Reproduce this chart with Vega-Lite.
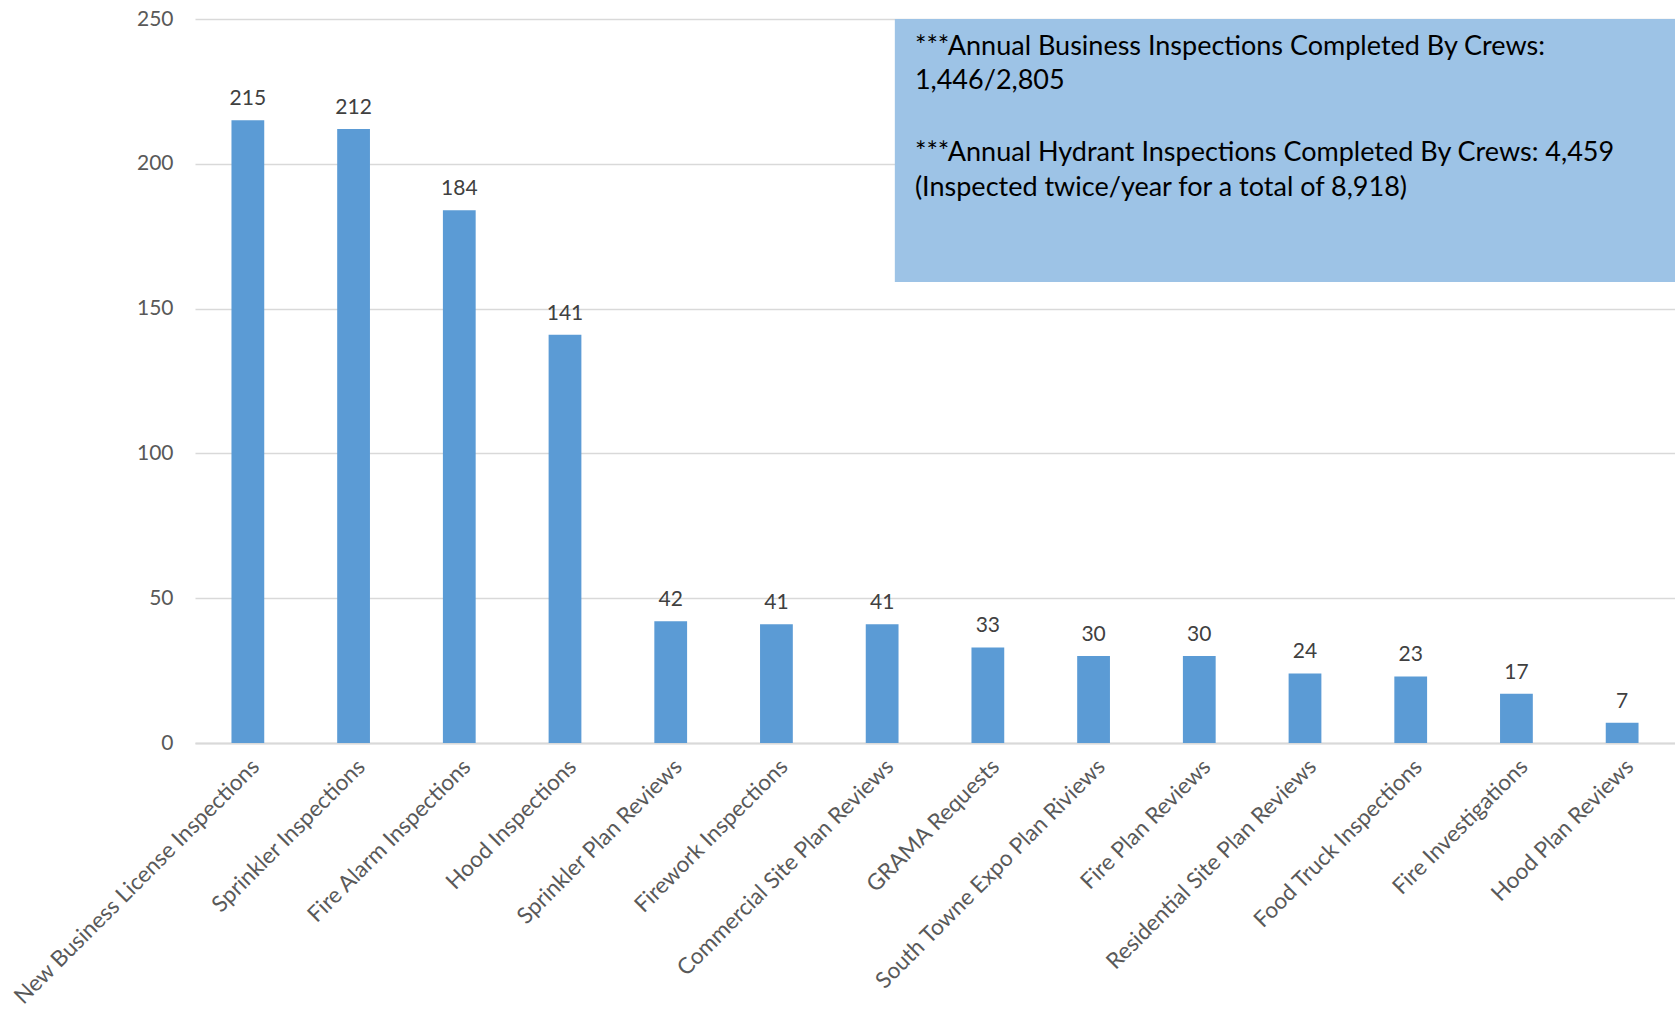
{
  "$schema": "https://vega.github.io/schema/vega-lite/v6.json",
  "width": 1480,
  "height": 724,
  "autosize": "none",
  "padding": {"left": 195, "top": 19, "right": 0, "bottom": 268},
  "background": "white",
  "config": {"view": {"stroke": null}, "font": "Lato"},
  "layer": [
    {
      "data": {
        "values": [
          {"category": "New Business License Inspections", "value": 215},
          {"category": "Sprinkler Inspections", "value": 212},
          {"category": "Fire Alarm Inspections", "value": 184},
          {"category": "Hood Inspections", "value": 141},
          {"category": "Sprinkler Plan Reviews", "value": 42},
          {"category": "Firework Inspections", "value": 41},
          {"category": "Commercial Site Plan Reviews", "value": 41},
          {"category": "GRAMA Requests", "value": 33},
          {"category": "South Towne Expo Plan Riviews", "value": 30},
          {"category": "Fire Plan Reviews", "value": 30},
          {"category": "Residential Site Plan Reviews", "value": 24},
          {"category": "Food Truck Inspections", "value": 23},
          {"category": "Fire Investigations", "value": 17},
          {"category": "Hood Plan Reviews", "value": 7}
        ]
      },
      "encoding": {
        "x": {
          "field": "category",
          "type": "nominal",
          "sort": null,
          "scale": {"paddingInner": 0.69, "paddingOuter": 0.345},
          "axis": {
            "title": null,
            "labelAngle": -45,
            "labelFontSize": 22.5,
            "labelColor": "#595959",
            "labelLimit": 600,
            "ticks": false,
            "domainColor": "#d9d9d9",
            "domainWidth": 2,
            "labelPadding": 12
          }
        },
        "y": {
          "field": "value",
          "type": "quantitative",
          "scale": {"domain": [0, 250], "nice": false},
          "axis": {
            "title": null,
            "values": [0, 50, 100, 150, 200, 250],
            "labelFontSize": 21,
            "labelColor": "#595959",
            "domain": false,
            "ticks": false,
            "gridColor": "#d9d9d9",
            "gridWidth": 1.5,
            "labelPadding": 22
          }
        }
      },
      "layer": [
        {"mark": {"type": "bar", "color": "#5B9BD5"}},
        {
          "mark": {"type": "text", "baseline": "bottom", "dy": -11, "fontSize": 21, "color": "#404040"},
          "encoding": {"text": {"field": "value", "type": "quantitative"}}
        }
      ]
    },
    {
      "data": {
        "values": [
          {"block": 1, "note": "***Annual Business Inspections Completed By Crews:\n1,446/2,805"},
          {"block": 2, "note": "***Annual Hydrant Inspections Completed By Crews: 4,459\n(Inspected twice/year for a total of 8,918)"}
        ]
      },
      "layer": [
        {
          "transform": [{"filter": "datum.block === 1"}],
          "mark": {"type": "rect", "color": "#9DC3E6"},
          "encoding": {
            "x": {"datum": 6.62, "type": "quantitative", "scale": {"domain": [0, 14], "nice": false}, "axis": null},
            "x2": {"datum": 14},
            "y": {"datum": 250, "type": "quantitative", "scale": {"domain": [0, 250], "nice": false}},
            "y2": {"datum": 159.2}
          }
        },
        {
          "transform": [{"filter": "datum.block === 1"}],
          "mark": {"type": "text", "align": "left", "baseline": "middle", "fontSize": 27, "lineHeight": 34, "lineBreak": "\n", "color": "#000000"},
          "encoding": {
            "x": {"datum": 6.81, "type": "quantitative", "scale": {"domain": [0, 14], "nice": false}, "axis": null},
            "y": {"datum": 240.3, "type": "quantitative", "scale": {"domain": [0, 250], "nice": false}},
            "text": {"field": "note", "type": "nominal"}
          }
        },
        {
          "transform": [{"filter": "datum.block === 2"}],
          "mark": {"type": "text", "align": "left", "baseline": "middle", "fontSize": 27, "lineHeight": 35, "lineBreak": "\n", "color": "#000000"},
          "encoding": {
            "x": {"datum": 6.81, "type": "quantitative", "scale": {"domain": [0, 14], "nice": false}, "axis": null},
            "y": {"datum": 203.7, "type": "quantitative", "scale": {"domain": [0, 250], "nice": false}},
            "text": {"field": "note", "type": "nominal"}
          }
        }
      ]
    }
  ],
  "resolve": {"scale": {"x": "independent"}}
}
